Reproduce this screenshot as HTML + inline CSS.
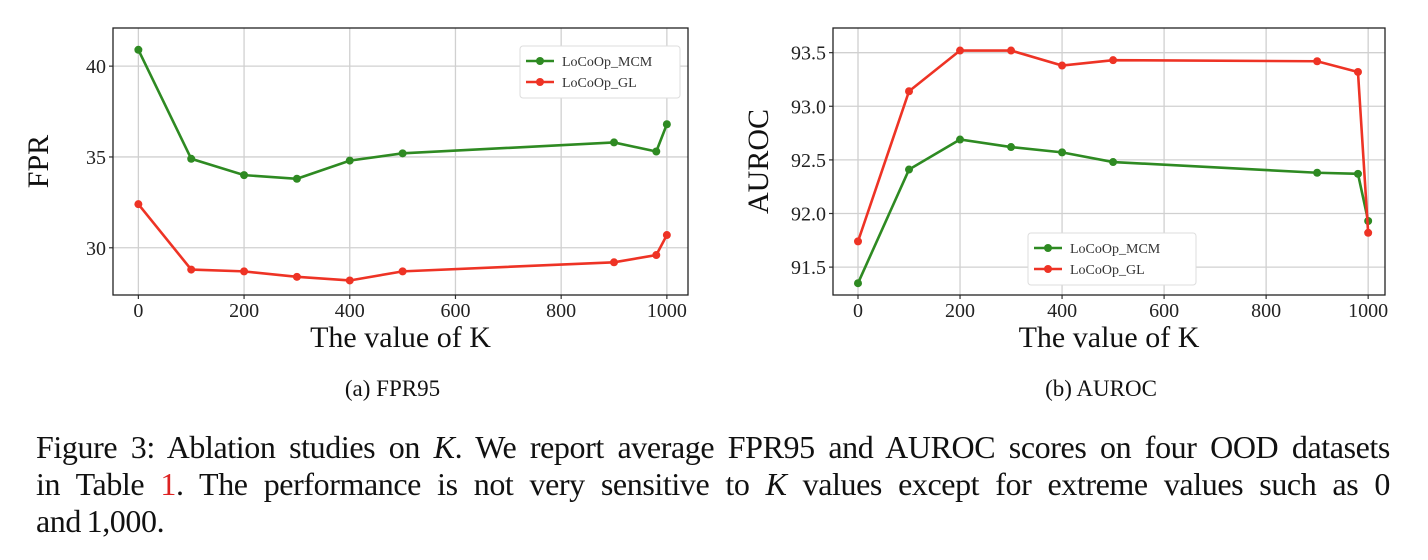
<!DOCTYPE html>
<html><head><meta charset="utf-8"><style>
body{margin:0;background:#fff;width:1428px;height:560px;overflow:hidden;font-family:"Liberation Serif",serif}
svg{position:absolute;left:0;top:0}
.cap{position:absolute;left:36px;width:1354px;font-size:32px;letter-spacing:-0.4px;word-spacing:-2px;line-height:37px;color:#111;top:429px}
.cap div{white-space:nowrap}
.j{text-align:justify;text-align-last:justify}
</style></head><body>
<svg id="s" width="1428" height="420"></svg>
<div class="cap"><div class="j">Figure 3: Ablation studies on <i>K</i>. We report average FPR95 and AUROC scores on four OOD datasets</div><div class="j">in Table <span style="color:#d22">1</span>. The performance is not very sensitive to <i>K</i> values except for extreme values such as 0</div><div>and 1,000.</div></div>
<script>
const kValues=[0,100,200,300,400,500,900,980,1000];
const fprMCM=[40.9,34.9,34.0,33.8,34.8,35.2,35.8,35.3,36.8];
const fprGL=[32.4,28.8,28.7,28.4,28.2,28.7,29.2,29.6,30.7];
const aucMCM=[91.35,92.41,92.69,92.62,92.57,92.48,92.38,92.37,91.93];
const aucGL=[91.74,93.14,93.52,93.52,93.38,93.43,93.42,93.32,91.82];
const xTicks=[0,200,400,600,800,1000];
const fprTicks=[30,35,40];
const aucTicks=[91.5,92.0,92.5,93.0,93.5];
const NS="http://www.w3.org/2000/svg";
const svg=document.getElementById('s');
function el(t,a,p){const e=document.createElementNS(NS,t);for(const k in a)e.setAttribute(k,a[k]);(p||svg).appendChild(e);return e;}
function panel(cfg){
  const g=el('g',{});
  
  
  const X=v=>cfg.x0+(v-cfg.xmin)/(cfg.xmax-cfg.xmin)*(cfg.x1-cfg.x0);
  const Y=v=>cfg.y1-(v-cfg.ymin)/(cfg.ymax-cfg.ymin)*(cfg.y1-cfg.y0);
  xTicks.forEach(t=>{
    const l=el('line',{x1:X(t),x2:X(t),y1:cfg.y0,y2:cfg.y1,stroke:'#d0d0d0','stroke-width':1.3},g);
    
    el('line',{x1:X(t),x2:X(t),y1:cfg.y1,y2:cfg.y1+4,stroke:'#333','stroke-width':1.2},g);
    const tx=el('text',{x:X(t),y:cfg.y1+22,'text-anchor':'middle','font-size':20,fill:'#222'},g);tx.textContent=t;
    
  });
  cfg.yt.forEach(t=>{
    const l=el('line',{x1:cfg.x0,x2:cfg.x1,y1:Y(t),y2:Y(t),stroke:'#d0d0d0','stroke-width':1.3},g);
    
    el('line',{x1:cfg.x0-4,x2:cfg.x0,y1:Y(t),y2:Y(t),stroke:'#333','stroke-width':1.2},g);
    const tx=el('text',{x:cfg.x0-7,y:Y(t)+7,'text-anchor':'end','font-size':20,fill:'#222'},g);tx.textContent=cfg.fmt(t);
    
  });
  const r=el('rect',{x:cfg.x0,y:cfg.y0,width:cfg.x1-cfg.x0,height:cfg.y1-cfg.y0,fill:'none',stroke:'#222','stroke-width':1.3},g);
  
  [[cfg.a,'#2e8a22','series-mcm'],[cfg.b,'#ee3325','series-gl']].forEach(([d,c,n])=>{
    const pts=kValues.map((k,i)=>X(k)+','+Y(d[i])).join(' ');
    const pl=el('polyline',{points:pts,fill:'none',stroke:c,'stroke-width':2.6},g);
    
    kValues.forEach((k,i)=>{const m=el('circle',{cx:X(k),cy:Y(d[i]),r:4,fill:c},g);
      });
  });
  const L=el('g',{},g);
  el('rect',{x:cfg.lx,y:cfg.ly,width:cfg.lw,height:52,rx:3,fill:'#fff',stroke:'#ddd'},L);
  [['LoCoOp_MCM','#2e8a22'],['LoCoOp_GL','#ee3325']].forEach(([t,c],i)=>{
    const yy=cfg.ly+15+i*21;
    el('line',{x1:cfg.lx+6,x2:cfg.lx+34,y1:yy,y2:yy,stroke:c,'stroke-width':2.6},L);
    el('circle',{cx:cfg.lx+20,cy:yy,r:4,fill:c},L);
    const tx=el('text',{x:cfg.lx+42,y:yy+5,'font-size':14,fill:'#333'},L);tx.textContent=t;
    
  });
  const xl=el('text',{x:(cfg.x0+cfg.x1)/2,y:347,'text-anchor':'middle','font-size':30,fill:'#111'},g);xl.textContent='The value of K';
  
  const yl=el('text',{x:0,y:0,'text-anchor':'middle','font-size':30,fill:'#111',transform:`translate(${cfg.ylx},${(cfg.y0+cfg.y1)/2}) rotate(-90)`},g);yl.textContent=cfg.ylab;
  
  const st=el('text',{x:(cfg.x0+cfg.x1)/2-8,y:396,'text-anchor':'middle','font-size':23,fill:'#111'},g);st.textContent=cfg.sub;
  
}
panel({name:'fpr-chart',x0:113,x1:688,y0:28,y1:295,xmin:-48,xmax:1040,ymin:27.4,ymax:42.1,yt:fprTicks,fmt:t=>t,a:fprMCM,b:fprGL,lx:520,ly:46,lw:160,ylab:'FPR',ylx:48,sub:'(a) FPR95'});
panel({name:'auroc-chart',x0:833,x1:1385,y0:28,y1:295,xmin:-49,xmax:1033,ymin:91.24,ymax:93.73,yt:aucTicks,fmt:t=>t.toFixed(1),a:aucMCM,b:aucGL,lx:1028,ly:233,lw:168,ylab:'AUROC',ylx:768,sub:'(b) AUROC'});
</script>
</body></html>
